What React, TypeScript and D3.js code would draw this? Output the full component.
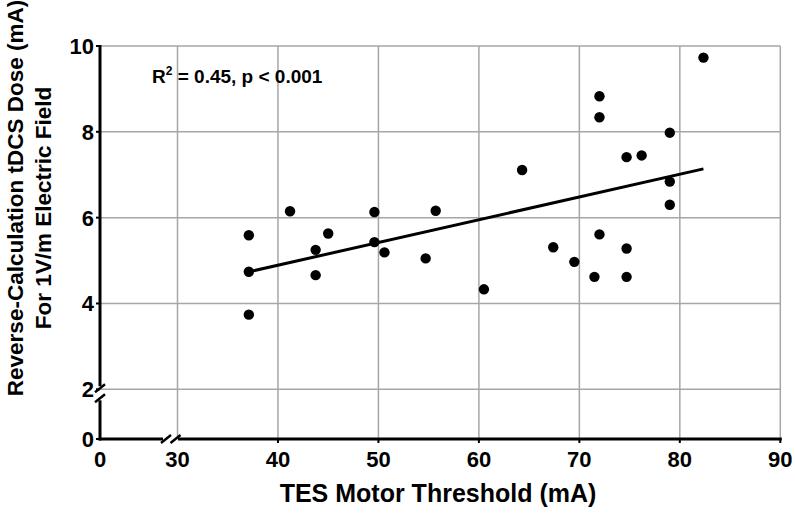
import React from "react";
import * as d3 from "d3";

const tesThreshold = [37.1, 37.1, 37.1, 41.2, 43.75, 43.75, 45.0, 49.6, 49.6, 50.6, 54.7, 55.7, 60.5, 64.3, 67.4, 69.5, 71.5, 72.0, 72.0, 72.0, 74.7, 74.7, 74.7, 76.2, 79.0, 79.0, 79.0, 82.35];
const tdcsDose = [3.74, 4.74, 5.59, 6.15, 5.25, 4.66, 5.63, 6.13, 5.43, 5.19, 5.05, 6.16, 4.33, 7.11, 5.31, 4.97, 4.62, 8.83, 8.34, 5.61, 7.41, 5.28, 4.62, 7.45, 7.98, 6.84, 6.30, 9.73];
const xTicks = [40, 50, 60, 70, 80, 90];
const yTicks = [2, 4, 6, 8, 10];
const xTitle = "TES Motor Threshold (mA)";
const yTitle1 = "Reverse-Calculation tDCS Dose (mA)";
const yTitle2 = "For 1V/m Electric Field";

const W = 795, H = 514;
const left = 100, right = 780.3, top = 46, axisY = 439;
const font = "'Liberation Sans', Arial, sans-serif";

export default function App() {
  const x = d3.scaleLinear().domain([30, 90]).range([177.5, right]);
  const y = d3.scaleLinear().domain([2, 10]).range([389.3, top]);
  const x0 = left, y0 = axisY;

  const mx = d3.mean(tesThreshold)!, my = d3.mean(tdcsDose)!;
  let sxy = 0, sxx = 0;
  tesThreshold.forEach((v, i) => { sxy += (v - mx) * (tdcsDose[i] - my); sxx += (v - mx) ** 2; });
  const slope = sxy / sxx, intercept = my - slope * mx;
  const [xmin, xmax] = d3.extent(tesThreshold) as [number, number];
  const line = d3.line<number>().x(d => x(d)).y(d => y(intercept + slope * d));

  const grid = "#a6a6a6";
  const tickFs = 22;
  const slash = (cx: number, cy: number, k: string) => (
    <line key={k} x1={cx - 5} y1={cy + 4} x2={cx + 5} y2={cy - 4} stroke="#000" strokeWidth={2.5} />
  );

  return (
    <div style={{ position: "absolute", left: 0, top: 0 }}>
      <svg width={W} height={H} style={{ display: "block", background: "#fff" }} fontFamily={font}>
        {/* grid */}
        {[30, ...xTicks].map(t => (
          <line key={"gx" + t} x1={x(t)} x2={x(t)} y1={top} y2={y0} stroke={grid} strokeWidth={1.5} />
        ))}
        {yTicks.map(t => (
          <line key={"gy" + t} x1={x0} x2={right} y1={y(t)} y2={y(t)} stroke={grid} strokeWidth={1.5} />
        ))}
        {/* axes */}
        <line x1={x0} x2={x0} y1={top - 1} y2={y(2) - 3} stroke="#000" strokeWidth={3} />
        <line x1={x0} x2={x0} y1={y(2) + 11} y2={y0 + 1.5} stroke="#000" strokeWidth={3} />
        <line x1={x0 - 1.5} x2={163} y1={y0} y2={y0} stroke="#000" strokeWidth={3} />
        <line x1={178} x2={right + 1.5} y1={y0} y2={y0} stroke="#000" strokeWidth={3} />
        {slash(x0, y(2) - 1, "s1")}
        {slash(x0, y(2) + 9, "s2")}
        {slash(166, y0, "s3")}
        {slash(175.5, y0, "s4")}
        {/* y ticks */}
        {yTicks.map(t => (
          <g key={"yt" + t}>
            <line x1={x0 - 4} x2={x0} y1={y(t)} y2={y(t)} stroke="#000" strokeWidth={2} />
            <text x={x0 - 6} y={y(t)} dy="0.36em" textAnchor="end" fontSize={tickFs} fontWeight="bold">{t}</text>
          </g>
        ))}
        <line x1={x0 - 4} x2={x0} y1={y0} y2={y0} stroke="#000" strokeWidth={2} />
        <text x={x0 - 6} y={y0} dy="0.36em" textAnchor="end" fontSize={tickFs} fontWeight="bold">0</text>
        {/* x ticks */}
        {xTicks.map(t => (
          <g key={"xt" + t}>
            <line x1={x(t)} x2={x(t)} y1={y0} y2={y0 + 4} stroke="#000" strokeWidth={2} />
            <text x={x(t)} y={y0 + 28} textAnchor="middle" fontSize={tickFs} fontWeight="bold">{t}</text>
          </g>
        ))}
        <text x={x(30)} y={y0 + 28} textAnchor="middle" fontSize={tickFs} fontWeight="bold">30</text>
        <text x={x0} y={y0 + 28} textAnchor="middle" fontSize={tickFs} fontWeight="bold">0</text>
        {/* regression */}
        <path d={line([xmin, xmax])!} stroke="#000" strokeWidth={3} fill="none" />
        {/* points */}
        {tesThreshold.map((v, i) => (
          <circle key={"p" + i} cx={x(v)} cy={y(tdcsDose[i])} r={5.2} fill="#000" />
        ))}
        {/* annotation */}
        <text x={152} y={83} fontSize={19} fontWeight="bold">
          R<tspan dy={-8} fontSize={12}>2</tspan><tspan dy={8}> = 0.45, p &lt; 0.001</tspan>
        </text>
        {/* titles */}
        <text x={438} y={502} textAnchor="middle" fontSize={25} fontWeight="bold">{xTitle}</text>
        <text transform="translate(23,198) rotate(-90)" textAnchor="middle" fontSize={22.5} fontWeight="bold">{yTitle1}</text>
        <text transform="translate(51,208) rotate(-90)" textAnchor="middle" fontSize={22.5} fontWeight="bold">{yTitle2}</text>
      </svg>
    </div>
  );
}
